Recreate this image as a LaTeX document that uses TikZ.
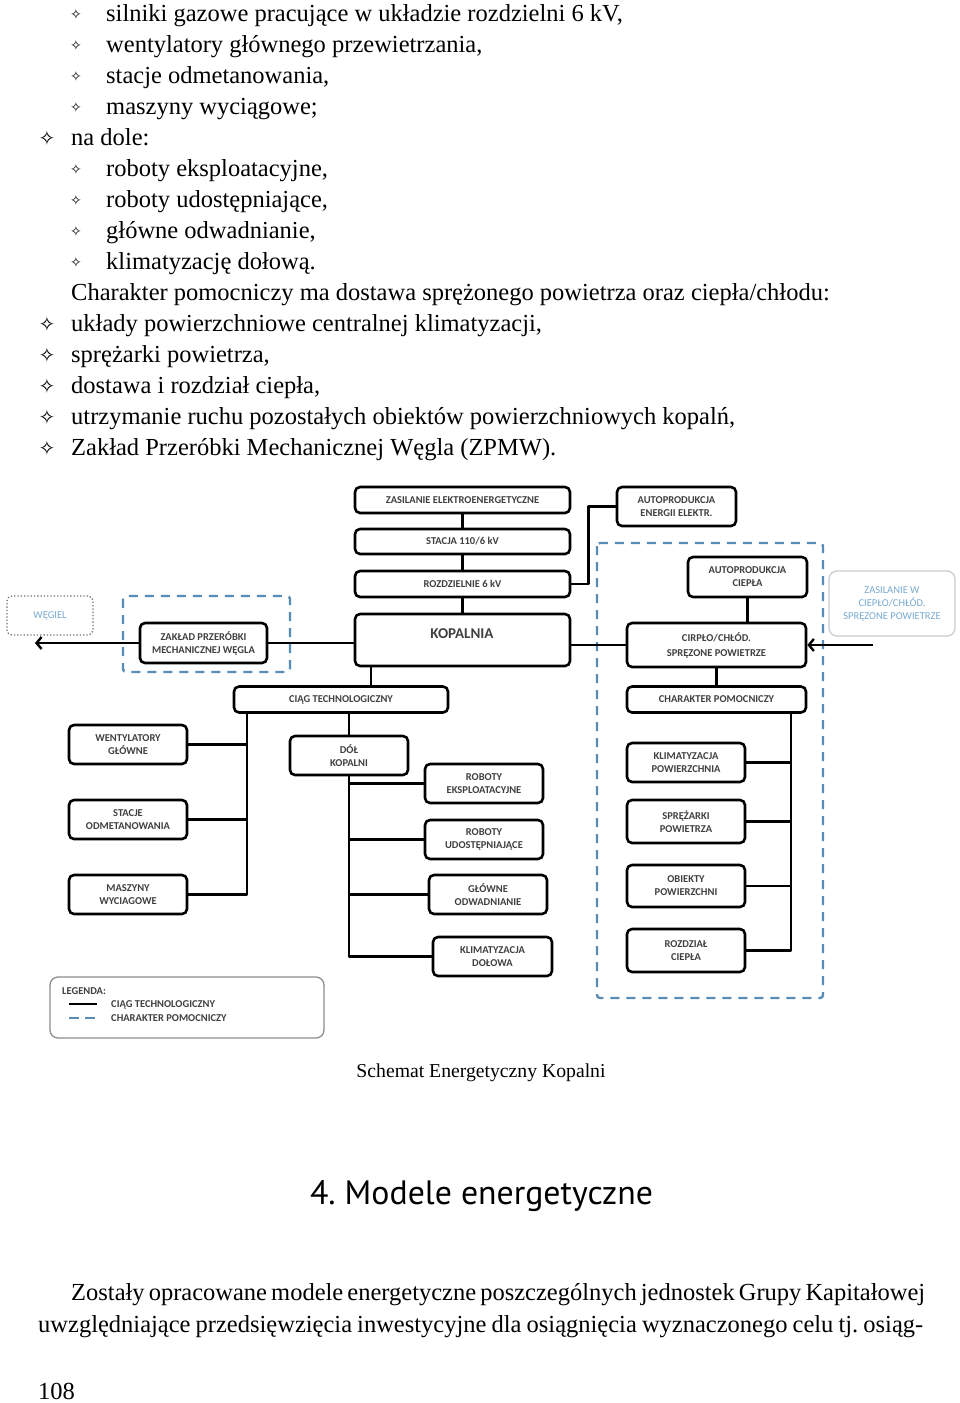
\documentclass[tikz,border=0pt]{standalone}
\usepackage{fontspec}
\setmainfont{Liberation Serif}
\newfontfamily\diafont{Carlito}
\newfontfamily\headfont{PT Sans}
\newfontfamily\symfont{DejaVu Sans}
\usetikzlibrary{arrows.meta}
\definecolor{auxblue}{RGB}{86,140,182}
\definecolor{paleblue}{RGB}{120,170,210}
\definecolor{palegrey}{RGB}{200,205,210}
\newcommand{\bigstar}{{\symfont\fontsize{20}{20}\selectfont ✧}}
\newcommand{\smallstar}{{\symfont\fontsize{14}{14}\selectfont ✧}}
\frenchspacing

\begin{document}
\begin{tikzpicture}[x=1pt, y=-1pt, line join=round,
    txt/.style={anchor=base west, inner sep=0pt, font=\fontsize{24.5}{28}\selectfont},
    box/.style={draw=black, line width=2.6pt, rounded corners=5pt, fill=white, align=center,
      inner sep=0pt, text=black!75, font=\diafont\bfseries\fontsize{10.5}{13}\selectfont},
    link/.style={line width=2.4pt},
    aux/.style={draw=auxblue, line width=2.4pt, dash pattern=on 9pt off 7pt, rounded corners=3pt},
    ghost/.style={draw=palegrey, line width=1.3pt, rounded corners=8pt, align=center, inner sep=0pt,
      text=paleblue, font=\diafont\fontsize{10.5}{13}\selectfont}]

  \useasboundingbox[fill=white] (0,0) rectangle (960,1403);

  %--------------------------
  % Text above the diagram
  %--------------------------
  \node at (76,14) {\smallstar};
  \node[txt] (t1) at (106,21) {silniki gazowe pracujące w układzie rozdzielni 6 kV,};
  \node at (76,45) {\smallstar};
  \node[txt] (t2) at (106,52) {wentylatory głównego przewietrzania,};
  \node at (76,76) {\smallstar};
  \node[txt] (t3) at (106,83) {stacje odmetanowania,};
  \node at (76,107) {\smallstar};
  \node[txt] (t4) at (106,114) {maszyny wyciągowe;};
  \node at (47,138) {\bigstar};
  \node[txt] (t5) at (71,145) {na dole:};
  \node at (76,169) {\smallstar};
  \node[txt] (t6) at (106,176) {roboty eksploatacyjne,};
  \node at (76,200) {\smallstar};
  \node[txt] (t7) at (106,207) {roboty udostępniające,};
  \node at (76,231) {\smallstar};
  \node[txt] (t8) at (106,238) {główne odwadnianie,};
  \node at (76,262) {\smallstar};
  \node[txt] (t9) at (106,269) {klimatyzację dołową.};
  \node[txt] (t10) at (71,300) {Charakter pomocniczy ma dostawa sprężonego powietrza oraz ciepła/chłodu:};
  \node at (47,324) {\bigstar};
  \node[txt] (t11) at (71,331) {układy powierzchniowe centralnej klimatyzacji,};
  \node at (47,355) {\bigstar};
  \node[txt] (t12) at (71,362) {sprężarki powietrza,};
  \node at (47,386) {\bigstar};
  \node[txt] (t13) at (71,393) {dostawa i rozdział ciepła,};
  \node at (47,417) {\bigstar};
  \node[txt] (t14) at (71,424) {utrzymanie ruchu pozostałych obiektów powierzchniowych kopalń,};
  \node at (47,448) {\bigstar};
  \node[txt] (t15) at (71,455) {Zakład Przeróbki Mechanicznej Węgla (ZPMW).};

  %--------------------------
  % Diagram: supply chain
  %--------------------------
  \node[box, minimum width=215, minimum height=26] (zas) at (462.5,500) {ZASILANIE ELEKTROENERGETYCZNE};
  \node[box, minimum width=215, minimum height=25] (stac) at (462.5,541.5) {STACJA 110/6 kV};
  \node[box, minimum width=215, minimum height=26] (rozd) at (462.5,584) {ROZDZIELNIE 6 kV};
  \node[box, minimum width=215, minimum height=52] (kop) at (462.5,640) {};
  \node[font=\diafont\bfseries\fontsize{15}{15}\selectfont, text=black!75] (kopt) at (462,634) {KOPALNIA};
  \node[box, minimum width=119, minimum height=39] (autoel) at (676.5,506.5) {AUTOPRODUKCJA\\ENERGII ELEKTR.};

  \draw[link] (zas.south) -- (stac.north);
  \draw[link] (stac.south) -- (rozd.north);
  \draw[link] (rozd.south) -- (kop.north);
  \draw[link] (rozd.east) -- ++(17,0) |- (autoel.west);

  % coal processing
  \draw[aux] (123,596) rectangle (290,672);
  \node[box, minimum width=127, minimum height=40] (zpmw) at (203.5,643) {ZAKŁAD PRZERÓBKI\\MECHANICZNEJ WĘGLA};
  \node[ghost, draw=black!55, dotted, rounded corners=5pt, minimum width=86, minimum height=39] (wegiel) at (50,615.5) {WĘGIEL};
  \coordinate (coalout) at (35,643);
  \draw[link] (zpmw.east) -- (zpmw.east -| kop.west);
  \draw[link, -{Straight Barb[length=5pt, width=12pt]}] (zpmw.west) -- (coalout);

  % auxiliary media
  \draw[aux] (597,543) rectangle (823,998);
  \node[box, minimum width=119, minimum height=40] (autoc) at (747.5,577) {AUTOPRODUKCJA\\CIEPŁA};
  \node[box, minimum width=179, minimum height=44, font=\diafont\bfseries\fontsize{10.5}{15}\selectfont] (cirp) at (716.5,645) {CIRPŁO/CHŁÓD.\\SPRĘZONE POWIETRZE};
  \node[box, minimum width=179, minimum height=26] (char) at (716.5,699.5) {CHARAKTER POMOCNICZY};
  \node[ghost, minimum width=126, minimum height=65] (zasw) at (892,603.5) {ZASILANIE W\\CIEPŁO/CHŁÓD.\\SPRĘZONE POWIETRZE};
  \coordinate (mediain) at (873,645);
  \draw[link] (cirp.west -| kop.east) -- (cirp.west);
  \draw[link] (autoc.south) -- (autoc.south |- cirp.north);
  \draw[link] (cirp.south) -- (char.north);
  \draw[link, -{Straight Barb[length=5pt, width=12pt]}] (mediain) -- (cirp.east);

  \node[box, minimum width=118, minimum height=39] (klimp) at (686,762.5) {KLIMATYZACJA\\POWIERZCHNIA};
  \node[box, minimum width=118, minimum height=43] (sprez) at (686,821.5) {SPRĘŻARKI\\POWIETRZA};
  \node[box, minimum width=118, minimum height=42] (obie) at (686,886) {OBIEKTY\\POWIERZCHNI};
  \node[box, minimum width=118, minimum height=43] (rozc) at (686,950.5) {ROZDZIAŁ\\CIEPŁA};
  \coordinate (rspine) at (791,712);
  \draw[link] (rspine) |- (rozc.east);
  \draw[link] (klimp.east) -- (klimp.east -| rspine);
  \draw[link] (sprez.east) -- (sprez.east -| rspine);
  \draw[link] (obie.east) -- (obie.east -| rspine);

  % technological chain
  \node[box, minimum width=214, minimum height=26] (ciag) at (341,699.5) {CIĄG TECHNOLOGICZNY};
  \coordinate (kc) at (371,666);
  \draw[link] (kc) -- (kc |- ciag.north);

  \node[box, minimum width=118, minimum height=39] (went) at (128,744.5) {WENTYLATORY\\GŁÓWNE};
  \node[box, minimum width=118, minimum height=39] (stacje) at (128,819.5) {STACJE\\ODMETANOWANIA};
  \node[box, minimum width=118, minimum height=39] (masz) at (128,894.5) {MASZYNY\\WYCIAGOWE};
  \coordinate (lspine) at (247,712);
  \draw[link] (lspine) |- (masz.east);
  \draw[link] (went.east) -- (went.east -| lspine);
  \draw[link] (stacje.east) -- (stacje.east -| lspine);

  \node[box, minimum width=118, minimum height=39] (dol) at (349,755.5) {DÓŁ\\KOPALNI};
  \node[box, minimum width=118, minimum height=39] (robe) at (484,783.5) {ROBOTY\\EKSPLOATACYJNE};
  \node[box, minimum width=118, minimum height=39] (robu) at (484,839.5) {ROBOTY\\UDOSTĘPNIAJĄCE};
  \node[box, minimum width=118, minimum height=39] (glow) at (488,894.5) {GŁÓWNE\\ODWADNIANIE};
  \node[box, minimum width=119, minimum height=39] (klimd) at (492.5,956.5) {KLIMATYZACJA\\DOŁOWA};
  \draw[link] (ciag.south -| dol.north) -- (dol.north);
  \draw[link] (dol.south) |- (klimd.west);
  \draw[link] (robe.west) -- (robe.west -| dol.south);
  \draw[link] (robu.west) -- (robu.west -| dol.south);
  \draw[link] (glow.west) -- (glow.west -| dol.south);

  % legend
  \node[ghost, draw=black!45, minimum width=274, minimum height=61] (legend) at (187,1007.5) {};
  \node[anchor=west, inner sep=0pt, text=black!75, font=\diafont\bfseries\fontsize{10.5}{12}\selectfont] (legt) at (62,991) {LEGENDA:};
  \draw[line width=2.4pt] (69,1004) -- (97,1004);
  \draw[aux, dash pattern=on 10pt off 6pt] (69,1018) -- (97,1018);
  \node[anchor=west, inner sep=0pt, text=black!75, font=\diafont\bfseries\fontsize{10.5}{12}\selectfont] (legc) at (111,1005) {CIĄG TECHNOLOGICZNY};
  \node[anchor=west, inner sep=0pt, text=black!75, font=\diafont\bfseries\fontsize{10.5}{12}\selectfont] (legp) at (111,1018) {CHARAKTER POMOCNICZY};

  %--------------------------
  % Text below the diagram
  %--------------------------
  \node[font=\fontsize{19.7}{22}\selectfont] (cap) at (481,1073) {Schemat Energetyczny Kopalni};
  \node[font=\headfont\fontsize{33.8}{38}\selectfont] (head) at (481.5,1196) {4. Modele energetyczne};
  \node[txt] (p1) at (71,1300) {\makebox[852pt][s]{Zostały opracowane modele energetyczne poszczególnych jednostek Grupy Kapitałowej}};
  \node[txt] (p2) at (38,1332) {\makebox[885pt][s]{uwzględniające przedsięwzięcia inwestycyjne dla osiągnięcia wyznaczonego celu tj. osiąg-}};
  \node[txt] (pg) at (38,1399) {108};

\end{tikzpicture}
\end{document}
